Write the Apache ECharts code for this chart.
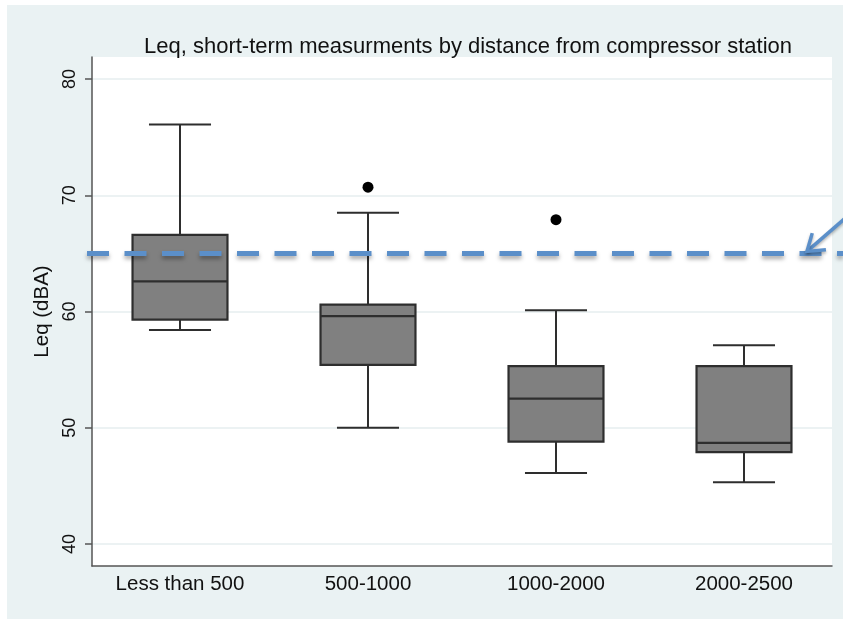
<!DOCTYPE html>
<html>
<head>
<meta charset="utf-8">
<script src="https://cdn.jsdelivr.net/npm/echarts@6/dist/echarts.min.js"></script>
<style>
html,body{margin:0;padding:0;background:#fff;}
#chart{width:843px;height:619px;}
</style>
</head>
<body>
<div id="chart"></div>
<script>
// ---- data ----
var categories = ['Less than 500', '500-1000', '1000-2000', '2000-2500'];
var lowerWhisker = [58.4, 50.0, 46.1, 45.3];
var quartile1 = [59.3, 55.4, 48.8, 47.9];
var medianValues = [62.6, 59.6, 52.5, 48.7];
var quartile3 = [66.6, 60.6, 55.3, 55.3];
var upperWhisker = [76.1, 68.5, 60.1, 57.1];
var outlierCategory = ['500-1000', '1000-2000'];
var outlierValue = [70.7, 67.9];
var yTickValues = [40, 50, 60, 70, 80];
var referenceLevel = 65;
var chartTitle = 'Leq, short-term measurments by distance from compressor station';
var yAxisTitle = 'Leq (dBA)';

// ---- build ----
var boxRows = categories.map(function (c, i) {
  return [i, lowerWhisker[i], quartile1[i], medianValues[i], quartile3[i], upperWhisker[i]];
});
var outlierRows = outlierCategory.map(function (c, i) { return [c, outlierValue[i]]; });

var FONT = 'Liberation Sans, Arial, Helvetica, sans-serif';
var INK = '#2e2e2e';
var BLUE = '#5b8fc9';
var Y_MIN = 38.1, Y_MAX = 81.9;

var chart = echarts.init(document.getElementById('chart'), null, {renderer: 'canvas'});

function renderBox(params, api) {
  var i = api.value(0);
  var pLo = api.coord([i, api.value(1)]);
  var pQ1 = api.coord([i, api.value(2)]);
  var pMed = api.coord([i, api.value(3)]);
  var pQ3 = api.coord([i, api.value(4)]);
  var pHi = api.coord([i, api.value(5)]);
  var band = api.size([1, 0])[0];
  var x = pMed[0];
  var bw = band * 0.505;
  var cw = band * 0.33;
  var ls = {stroke: INK, lineWidth: 2};
  return {
    type: 'group',
    children: [
      {type: 'line', shape: {x1: x, y1: pLo[1], x2: x, y2: pQ1[1]}, style: ls},
      {type: 'line', shape: {x1: x, y1: pQ3[1], x2: x, y2: pHi[1]}, style: ls},
      {type: 'line', shape: {x1: x - cw / 2, y1: pLo[1], x2: x + cw / 2, y2: pLo[1]}, style: ls},
      {type: 'line', shape: {x1: x - cw / 2, y1: pHi[1], x2: x + cw / 2, y2: pHi[1]}, style: ls},
      {type: 'rect', shape: {x: x - bw / 2, y: pQ3[1], width: bw, height: pQ1[1] - pQ3[1]},
        style: {fill: '#808080', stroke: INK, lineWidth: 2.2}},
      {type: 'line', shape: {x1: x - bw / 2, y1: pMed[1], x2: x + bw / 2, y2: pMed[1]}, style: {stroke: INK, lineWidth: 2.2}}
    ]
  };
}

var option = {
  animation: false,
  backgroundColor: '#eaf2f3',
  title: {
    text: chartTitle,
    left: 463,
    top: 31,
    textAlign: 'center',
    textStyle: {fontFamily: FONT, fontSize: 22, fontWeight: 'normal', color: '#111'}
  },
  grid: [
    {left: 92, top: 57, width: 740, height: 509, show: true, backgroundColor: '#ffffff', borderWidth: 0},
    {left: 86, top: 57, width: 752, height: 509, show: false}
  ],
  xAxis: [
    {gridIndex: 0, type: 'value', min: 0, max: 1, position: 'bottom',
      axisLine: {show: true, lineStyle: {color: '#555', width: 1.5}},
      axisTick: {show: false}, axisLabel: {show: false}, splitLine: {show: false}},
    {gridIndex: 1, type: 'category', data: categories, position: 'bottom',
      axisLine: {show: false}, axisTick: {show: false}, splitLine: {show: false},
      axisLabel: {fontFamily: FONT, fontSize: 20.5, color: '#111', margin: 8}}
  ],
  yAxis: [
    {gridIndex: 0, type: 'value', min: Y_MIN, max: Y_MAX,
      name: yAxisTitle, nameLocation: 'middle', nameRotate: 90, nameGap: 35,
      nameTextStyle: {fontFamily: FONT, fontSize: 20.5, color: '#111'},
      axisLine: {show: true, lineStyle: {color: '#555', width: 1.5}},
      axisTick: {show: true, length: 7, customValues: yTickValues, lineStyle: {color: '#555', width: 1.5}},
      axisLabel: {show: true, rotate: 90, customValues: yTickValues, fontFamily: FONT, fontSize: 18, color: '#111', margin: 13},
      splitLine: {show: true, lineStyle: {color: '#e6eeef', width: 1.5}}},
    {gridIndex: 1, type: 'value', min: Y_MIN, max: Y_MAX, show: false, splitLine: {show: false}}
  ],
  series: [
    {
      type: 'custom', name: 'Leq', xAxisIndex: 1, yAxisIndex: 1,
      data: boxRows, encode: {x: 0, y: [1, 2, 3, 4, 5]},
      renderItem: renderBox, z: 3
    },
    {
      type: 'scatter', name: 'outliers', xAxisIndex: 1, yAxisIndex: 1,
      data: outlierRows, symbol: 'circle', symbolSize: 11,
      itemStyle: {color: '#000', opacity: 1}, z: 4
    }
  ]
};
chart.setOption(option);

// Annotation: dashed reference level with arrow, positioned through the axis scale
var yRef = chart.convertToPixel({yAxisIndex: 0}, referenceLevel);
var tip = [807, yRef - 2];
var ang = Math.atan2(220 - tip[1], 845 - tip[0]);
var armLen = 19, spread = 0.6;
var arm1 = [tip[0] + armLen * Math.cos(ang - spread), tip[1] + armLen * Math.sin(ang - spread)];
var arm2 = [tip[0] + armLen * Math.cos(ang + spread), tip[1] + armLen * Math.sin(ang + spread)];
chart.setOption({
  graphic: [
    {type: 'rect', shape: {x: 0, y: 0, width: 7, height: 619}, style: {fill: '#fff'}, silent: true},
    {type: 'rect', shape: {x: 0, y: 0, width: 843, height: 5}, style: {fill: '#fff'}, silent: true},
    {type: 'line', z: 10, shape: {x1: 87, y1: yRef, x2: 843, y2: yRef},
      style: {stroke: BLUE, lineWidth: 5, lineDash: [22, 15.5],
        shadowColor: 'rgba(0,0,0,0.35)', shadowBlur: 4, shadowOffsetY: 3}, silent: true},
    {type: 'line', z: 10, shape: {x1: tip[0], y1: tip[1], x2: 850, y2: 214},
      style: {stroke: BLUE, lineWidth: 3.5, shadowColor: 'rgba(0,0,0,0.3)', shadowBlur: 3, shadowOffsetY: 2}, silent: true},
    {type: 'polyline', z: 10, shape: {points: [arm1, tip, arm2]},
      style: {stroke: BLUE, lineWidth: 3.5, fill: null, lineJoin: 'miter',
        shadowColor: 'rgba(0,0,0,0.3)', shadowBlur: 3, shadowOffsetY: 2}, silent: true}
  ]
});
</script>
</body>
</html>
